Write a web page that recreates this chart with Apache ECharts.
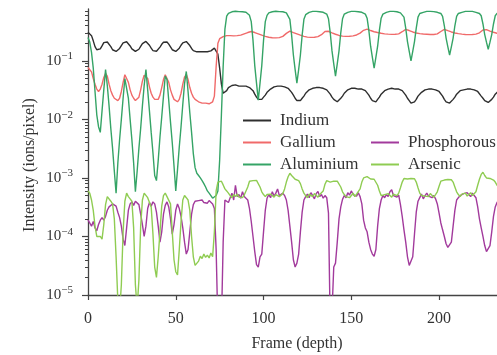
<!DOCTYPE html>
<html><head><meta charset="utf-8">
<script src="https://cdn.jsdelivr.net/npm/echarts@6/dist/echarts.min.js"></script>
<style>html,body{margin:0;padding:0;background:#fff}#c{width:497px;height:355px}</style>
</head><body><div id="c"></div>
<script>
// Frame index = position in each array (frames 0..234)
const seriesNames = ['Indium', 'Gallium', 'Aluminium', 'Phosphorous', 'Arsenic'];

const indium = [
0.31,0.30,0.27,0.22,0.175,0.155,0.15,0.16,0.18,0.205,
0.215,0.21,0.195,0.175,0.155,0.147,0.145,0.15,0.163,0.183,
0.203,0.214,0.212,0.2,0.18,0.16,0.148,0.145,0.148,0.158,
0.177,0.197,0.212,0.215,0.205,0.185,0.165,0.15,0.145,0.146,
0.155,0.172,0.192,0.208,0.215,0.21,0.193,0.173,0.155,0.146,
0.145,0.15,0.165,0.185,0.203,0.213,0.214,0.203,0.183,0.163,
0.15,0.145,0.143,0.142,0.143,0.142,0.143,0.142,0.143,0.145,
0.148,0.155,0.165,0.17,0.13,0.075,0.04,0.028,0.027,0.031,
0.035,0.037,0.038,0.039,0.039,0.038,0.037,0.038,0.037,0.038,
0.037,0.036,0.035,0.034,0.031,0.027,0.024,0.022,0.0215,0.022,
0.024,0.026,0.029,0.031,0.033,0.035,0.036,0.037,0.037,0.036,
0.037,0.036,0.036,0.035,0.034,0.032,0.029,0.026,0.023,0.021,
0.020,0.021,0.023,0.025,0.028,0.030,0.032,0.033,0.034,0.034,
0.035,0.034,0.035,0.034,0.034,0.033,0.032,0.030,0.027,0.024,
0.022,0.0205,0.020,0.021,0.023,0.025,0.028,0.030,0.032,0.033,
0.034,0.033,0.034,0.034,0.033,0.034,0.033,0.032,0.031,0.029,
0.026,0.023,0.021,0.020,0.020,0.022,0.024,0.027,0.029,0.031,
0.032,0.033,0.033,0.034,0.033,0.033,0.034,0.033,0.032,0.031,
0.029,0.026,0.023,0.021,0.019,0.019,0.020,0.022,0.025,0.027,
0.029,0.031,0.032,0.032,0.033,0.032,0.033,0.033,0.032,0.031,
0.030,0.028,0.025,0.022,0.020,0.019,0.019,0.020,0.022,0.024,
0.027,0.029,0.031,0.032,0.032,0.033,0.033,0.032,0.033,0.033,
0.032,0.031,0.030,0.028,0.025,0.023,0.021,0.020,0.0195,0.020,
0.022,0.024,0.027,0.029,0.031];

const gallium = [
0.077,0.075,0.065,0.05,0.04,0.033,0.03,0.033,0.04,0.052,
0.061,0.055,0.04,0.031,0.026,0.023,0.022,0.021,0.023,0.03,
0.043,0.058,0.057,0.043,0.032,0.026,0.023,0.021,0.021,0.024,
0.032,0.045,0.057,0.06,0.05,0.036,0.028,0.024,0.022,0.021,
0.022,0.026,0.035,0.048,0.058,0.056,0.043,0.032,0.026,0.022,
0.021,0.02,0.022,0.028,0.04,0.053,0.059,0.048,0.035,0.028,
0.024,0.022,0.021,0.02,0.02,0.019,0.019,0.019,0.0185,0.0185,
0.019,0.02,0.025,0.08,0.2,0.24,0.255,0.26,0.265,0.27,
0.27,0.27,0.27,0.268,0.27,0.27,0.272,0.275,0.28,0.29,
0.30,0.305,0.315,0.318,0.312,0.305,0.297,0.29,0.283,0.275,
0.268,0.262,0.257,0.253,0.25,0.248,0.247,0.247,0.248,0.25,
0.255,0.262,0.275,0.295,0.315,0.322,0.315,0.305,0.297,0.29,
0.282,0.275,0.268,0.262,0.258,0.255,0.253,0.252,0.252,0.253,
0.255,0.26,0.267,0.28,0.30,0.318,0.325,0.32,0.31,0.30,
0.292,0.285,0.278,0.272,0.268,0.265,0.263,0.262,0.262,0.263,
0.265,0.268,0.272,0.277,0.285,0.298,0.315,0.333,0.345,0.348,
0.34,0.33,0.322,0.315,0.31,0.305,0.30,0.296,0.293,0.29,
0.288,0.286,0.285,0.284,0.284,0.285,0.287,0.29,0.298,0.315,
0.335,0.345,0.34,0.33,0.32,0.312,0.306,0.30,0.296,0.292,
0.29,0.288,0.286,0.285,0.283,0.282,0.282,0.283,0.285,0.29,
0.30,0.318,0.337,0.345,0.338,0.328,0.32,0.312,0.306,0.30,
0.296,0.292,0.289,0.287,0.285,0.283,0.282,0.281,0.281,0.282,
0.284,0.287,0.292,0.302,0.32,0.338,0.348,0.342,0.332,0.322,
0.315,0.308,0.302,0.297,0.293];

const aluminium = [
0.25,0.21,0.14,0.075,0.03,0.012,0.0075,0.006,0.014,0.032,
0.071,0.038,0.017,0.007,0.0032,0.0013,0.00055,0.0018,0.0045,0.01,
0.023,0.05,0.05,0.023,0.01,0.0045,0.0018,0.00058,0.0013,0.0032,
0.007,0.017,0.038,0.071,0.032,0.014,0.006,0.0027,0.0011,0.0009,
0.002,0.005,0.011,0.025,0.055,0.048,0.021,0.009,0.004,0.0016,
0.0006,0.0014,0.0034,0.0075,0.018,0.041,0.066,0.03,0.013,0.006,
0.0026,0.0015,0.0012,0.0011,0.001,0.0009,0.0008,0.0007,0.0006,0.00055,
0.0005,0.00045,0.00042,0.0005,0.0006,0.002,0.012,0.08,0.35,0.58,
0.65,0.68,0.69,0.70,0.705,0.70,0.695,0.70,0.69,0.69,
0.676,0.66,0.60,0.468,0.224,0.083,0.0417,0.0214,0.0417,0.083,
0.224,0.468,0.60,0.66,0.676,0.69,0.70,0.705,0.70,0.695,
0.70,0.69,0.676,0.66,0.617,0.513,0.275,0.126,0.071,0.0417,
0.071,0.126,0.275,0.513,0.617,0.66,0.676,0.69,0.70,0.705,
0.70,0.695,0.69,0.69,0.676,0.66,0.63,0.525,0.302,0.148,
0.089,0.055,0.089,0.148,0.302,0.525,0.63,0.66,0.676,0.69,
0.70,0.705,0.70,0.695,0.69,0.69,0.676,0.66,0.63,0.537,
0.331,0.178,0.115,0.075,0.115,0.178,0.331,0.537,0.63,0.66,
0.676,0.69,0.70,0.705,0.70,0.695,0.69,0.676,0.66,0.646,
0.56,0.363,0.214,0.145,0.10,0.145,0.214,0.363,0.56,0.646,
0.66,0.676,0.69,0.70,0.705,0.70,0.70,0.695,0.69,0.676,
0.66,0.646,0.575,0.398,0.245,0.174,0.126,0.174,0.245,0.398,
0.575,0.646,0.66,0.676,0.69,0.70,0.705,0.70,0.695,0.70,
0.69,0.676,0.66,0.646,0.59,0.427,0.282,0.209,0.158,0.209,
0.282,0.427,0.59,0.646,0.66];

const phosphorous = [
1.9e-4,1.7e-4,1.5e-4,1.8e-4,1.4e-4,1.25e-4,1.6e-4,1.9e-4,2.1e-4,1.9e-4,
2.2e-4,2.8e-4,3.2e-4,3.0e-4,3.6e-4,3.8e-4,3.3e-4,2.6e-4,2.1e-4,1.5e-4,
9e-5,7e-5,1.4e-4,2.8e-4,3.6e-4,3.9e-4,3.4e-4,4.0e-4,4.3e-4,3.5e-4,
2.4e-4,1.6e-4,1.0e-4,1.5e-4,3.0e-4,3.8e-4,3.3e-4,3.9e-4,3.6e-4,2.6e-4,
1.5e-4,8e-5,1.2e-4,2.4e-4,3.4e-4,3.9e-4,3.2e-4,2.0e-4,1.1e-4,1.6e-4,
2.8e-4,3.6e-4,3.0e-4,2.2e-4,1.4e-4,8e-5,5e-5,6e-5,1.2e-4,2.4e-4,
3.5e-4,4.0e-4,3.7e-4,4.1e-4,3.9e-4,4.2e-4,3.8e-4,4.0e-4,3.7e-4,4.1e-4,
3.9e-4,3.6e-4,3.0e-4,6e-5,3e-6,2e-6,3e-6,8e-5,4.2e-4,4.5e-4,
3.8e-4,4.6e-4,5.5e-4,4.2e-4,7.5e-4,4.8e-4,5.2e-4,4.5e-4,5.8e-4,4.8e-4,
5.0e-4,4.2e-4,3.0e-4,1.8e-4,1.0e-4,5.5e-5,3.3e-5,3.0e-5,4.5e-5,5e-5,
1.2e-4,2.8e-4,4.5e-4,5.2e-4,4.6e-4,5.8e-4,4.9e-4,5.5e-4,6.5e-4,5.0e-4,
4.7e-4,5.5e-4,5.0e-4,4.2e-4,2.8e-4,1.5e-4,8e-5,4e-5,3e-5,3.5e-5,
5e-5,1.2e-4,2.6e-4,4.2e-4,4.8e-4,5.3e-4,4.6e-4,5.6e-4,5.0e-4,4.4e-4,
5.4e-4,5.9e-4,4.8e-4,5.2e-4,4.5e-4,5.0e-4,4.6e-4,2.5e-4,3e-6,5e-6,
3e-5,3.5e-5,8e-5,2e-4,3.2e-4,4.3e-4,5.0e-4,4.6e-4,5.6e-4,5.1e-4,
6.0e-4,5.2e-4,5.5e-4,4.9e-4,5.6e-4,4.8e-4,3.6e-4,1.9e-4,1.4e-4,1.2e-4,
8e-5,6e-5,5e-5,4.6e-5,6e-5,1.5e-4,3.0e-4,4.2e-4,5.0e-4,4.6e-4,
5.2e-4,4.8e-4,5.8e-4,6.3e-4,5.0e-4,5.4e-4,4.7e-4,5.1e-4,3.5e-4,2.2e-4,
1.3e-4,8e-5,4.5e-5,3.2e-5,3.0e-5,4.5e-5,1.1e-4,2.6e-4,4.0e-4,4.6e-4,
5.3e-4,4.4e-4,5.0e-4,5.5e-4,4.9e-4,5.2e-4,4.6e-4,5.0e-4,4.4e-4,3.6e-4,
2.5e-4,1.7e-4,1.3e-4,1.0e-4,7.5e-5,6.5e-5,6.5e-5,8e-5,1.5e-4,2.8e-4,
4.2e-4,4.6e-4,5.0e-4,4.8e-4,5.4e-4,5.0e-4,5.6e-4,5.2e-4,4.8e-4,5.5e-4,
5.0e-4,4.6e-4,3.2e-4,2.0e-4,1.4e-4,1.0e-4,7e-5,5.5e-5,5.2e-5,7e-5,
1.2e-4,2.2e-4,3.2e-4,3.8e-4,4.2e-4];

const arsenic = [
6e-4,5.5e-4,4.2e-4,2.8e-4,1.5e-4,1.0e-4,9.5e-5,1.0e-4,9e-5,1.6e-4,
3.5e-4,4.8e-4,4.5e-4,4.0e-4,3.6e-4,2.0e-4,4.5e-5,8e-6,5e-6,1.5e-5,
1.2e-4,4.0e-4,5.5e-4,4.8e-4,4.4e-4,4.0e-4,1.4e-4,1.5e-5,6e-6,1.8e-5,
1.5e-4,4.2e-4,5.5e-4,5.8e-4,4.6e-4,4.3e-4,3.2e-4,1.1e-4,3.0e-5,2.0e-5,
4.5e-5,1.2e-4,3.3e-4,5.0e-4,5.5e-4,4.8e-4,4.5e-4,3.6e-4,1.2e-4,4.0e-5,
2.5e-5,2.2e-5,6e-5,1.8e-4,4.2e-4,5.0e-4,4.6e-4,4.2e-4,2.8e-4,1.0e-4,
4.5e-5,3.2e-5,3.0e-5,3.8e-5,4.6e-5,4.2e-5,5.0e-5,4.4e-5,4.8e-5,4.3e-5,
5.2e-5,4.5e-5,1.2e-4,6e-4,8.5e-4,8.0e-4,8.8e-4,7.6e-4,6.5e-4,6.0e-4,
5.5e-4,5.0e-4,4.6e-4,5.2e-4,4.8e-4,5.3e-4,4.7e-4,5.0e-4,4.6e-4,5.1e-4,
5.5e-4,7.0e-4,8.8e-4,9.2e-4,9.0e-4,9.5e-4,9.1e-4,8.8e-4,7.0e-4,5.8e-4,
5.2e-4,4.8e-4,5.2e-4,4.9e-4,5.3e-4,5.0e-4,4.7e-4,5.2e-4,5.5e-4,4.8e-4,
5.0e-4,5.4e-4,6.5e-4,8.5e-4,1.05e-3,1.2e-3,1.1e-3,1.05e-3,9.5e-4,9.8e-4,
9.0e-4,8.0e-4,6.5e-4,5.5e-4,5.0e-4,4.6e-4,5.3e-4,5.0e-4,4.8e-4,5.4e-4,
5.0e-4,4.7e-4,5.2e-4,5.0e-4,6.0e-4,7.8e-4,9.0e-4,8.7e-4,8.5e-4,9.0e-4,
8.8e-4,8.5e-4,8.8e-4,8.2e-4,7.0e-4,5.8e-4,5.2e-4,4.8e-4,5.1e-4,4.6e-4,
5.0e-4,5.5e-4,4.8e-4,5.3e-4,5.6e-4,6.5e-4,8.5e-4,1.0e-3,9.8e-4,1.05e-3,
1.0e-3,9.6e-4,1.0e-3,9.5e-4,9.0e-4,7.5e-4,6.0e-4,5.0e-4,4.8e-4,5.2e-4,
4.9e-4,5.4e-4,5.0e-4,4.7e-4,5.3e-4,5.6e-4,5.0e-4,5.5e-4,6.8e-4,8.5e-4,
9.8e-4,1.0e-3,9.6e-4,1.02e-3,9.8e-4,9.5e-4,9.7e-4,8.5e-4,6.8e-4,5.5e-4,
5.0e-4,5.3e-4,4.9e-4,5.2e-4,4.8e-4,5.4e-4,5.0e-4,4.7e-4,5.2e-4,5.8e-4,
7.2e-4,8.8e-4,9.5e-4,9.2e-4,9.6e-4,9.4e-4,9.0e-4,9.3e-4,8.5e-4,7.0e-4,
5.8e-4,5.2e-4,4.8e-4,5.3e-4,5.0e-4,5.5e-4,4.9e-4,5.2e-4,5.6e-4,5.0e-4,
5.3e-4,5.8e-4,7.5e-4,9.5e-4,1.15e-3,1.25e-3,1.1e-3,1.0e-3,1.05e-3,9.8e-4,
1.0e-3,9.2e-4,8.5e-4,7.5e-4,7.0e-4];

const xTickValues = [0, 50, 100, 150, 200];
const yTickValues = [1e-5, 1e-4, 1e-3, 1e-2, 1e-1];
const yMinorValues = [
2e-5,3e-5,4e-5,5e-5,6e-5,7e-5,8e-5,9e-5,
2e-4,3e-4,4e-4,5e-4,6e-4,7e-4,8e-4,9e-4,
2e-3,3e-3,4e-3,5e-3,6e-3,7e-3,8e-3,9e-3,
2e-2,3e-2,4e-2,5e-2,6e-2,7e-2,8e-2,9e-2,
0.2,0.3,0.4,0.5,0.6,0.7];

const colors = ['#2e2e2e', '#f06a6a', '#35a466', '#a23a9c', '#8fcc52'];
const seriesData = [indium, gallium, aluminium, phosphorous, arsenic];
const FONT = '"Liberation Serif", "DejaVu Serif", serif';
const axisColor = '#444';

const chart = echarts.init(document.getElementById('c'), null, {renderer: 'canvas'});

const legendText = {fontFamily: FONT, fontSize: 17, color: '#333', padding: [0, 0, 0, 4]};

chart.setOption({
  animation: false,
  color: colors,
  grid: {left: 88, right: 0, top: 9, bottom: 60, containLabel: false},
  legend: [
    {data: seriesNames.slice(0, 3), orient: 'vertical', left: 238, top: 107,
     icon: 'rect', itemWidth: 28, itemHeight: 2, itemGap: 5, textStyle: legendText,
     selectedMode: false},
    {data: seriesNames.slice(3), orient: 'vertical', left: 366, top: 129,
     icon: 'rect', itemWidth: 28, itemHeight: 2, itemGap: 5, textStyle: legendText,
     selectedMode: false}
  ],
  xAxis: {
    type: 'value', min: 0, max: 233, interval: 50,
    axisLine: {show: true, lineStyle: {color: axisColor, width: 1.3}},
    axisTick: {show: true, length: 5, customValues: xTickValues, lineStyle: {color: axisColor, width: 1.2}},
    axisLabel: {customValues: xTickValues, margin: 16, fontFamily: FONT, fontSize: 16, color: '#333',
      formatter: function (v) { return (v % 50 === 0) ? String(v) : ''; }},
    splitLine: {show: false}
  },
  yAxis: [
    {
      type: 'log', logBase: 10, min: 1e-5, max: 0.77, position: 'left',
      axisLine: {show: true, lineStyle: {color: axisColor, width: 1.3}},
      axisTick: {show: true, length: 6, customValues: yTickValues, lineStyle: {color: axisColor, width: 1.2}},
      axisLabel: {
        customValues: yTickValues, margin: 15, color: '#333',
        formatter: function (v) {
          const l = Math.log10(v); const e = Math.round(l);
          if (Math.abs(l - e) > 1e-6 || e > -1) return '';
          return '{b|10}{s|\u2212' + Math.abs(e) + '}';
        },
        rich: {
          b: {fontFamily: FONT, fontSize: 15, color: '#333'},
          s: {fontFamily: FONT, fontSize: 11, color: '#333', padding: [0, 0, 9, 0]}
        }
      },
      splitLine: {show: false}
    },
    {
      type: 'log', logBase: 10, min: 1e-5, max: 0.77, position: 'left',
      axisLine: {show: false},
      axisTick: {show: true, length: 3, customValues: yMinorValues, lineStyle: {color: axisColor, width: 1}},
      axisLabel: {show: false},
      splitLine: {show: false}
    }
  ],
  graphic: [
    {type: 'text', x: 30, y: 165, rotation: Math.PI / 2,
     style: {text: 'Intensity (ions/pixel)', fontFamily: FONT, fontSize: 16, fill: '#333',
             align: 'center', verticalAlign: 'middle'}},
    {type: 'text', x: 297, y: 344,
     style: {text: 'Frame (depth)', fontFamily: FONT, fontSize: 16, fill: '#333',
             align: 'center', verticalAlign: 'middle'}}
  ],
  series: seriesNames.map(function (name, k) {
    return {
      name: name, type: 'line', yAxisIndex: 0,
      showSymbol: false, symbol: 'none', clip: true, smooth: false,
      lineStyle: {width: 1.4, color: colors[k]},
      itemStyle: {color: colors[k]},
      data: seriesData[k].map(function (v, i) { return [i, v]; })
    };
  })
});
</script>
</body></html>
